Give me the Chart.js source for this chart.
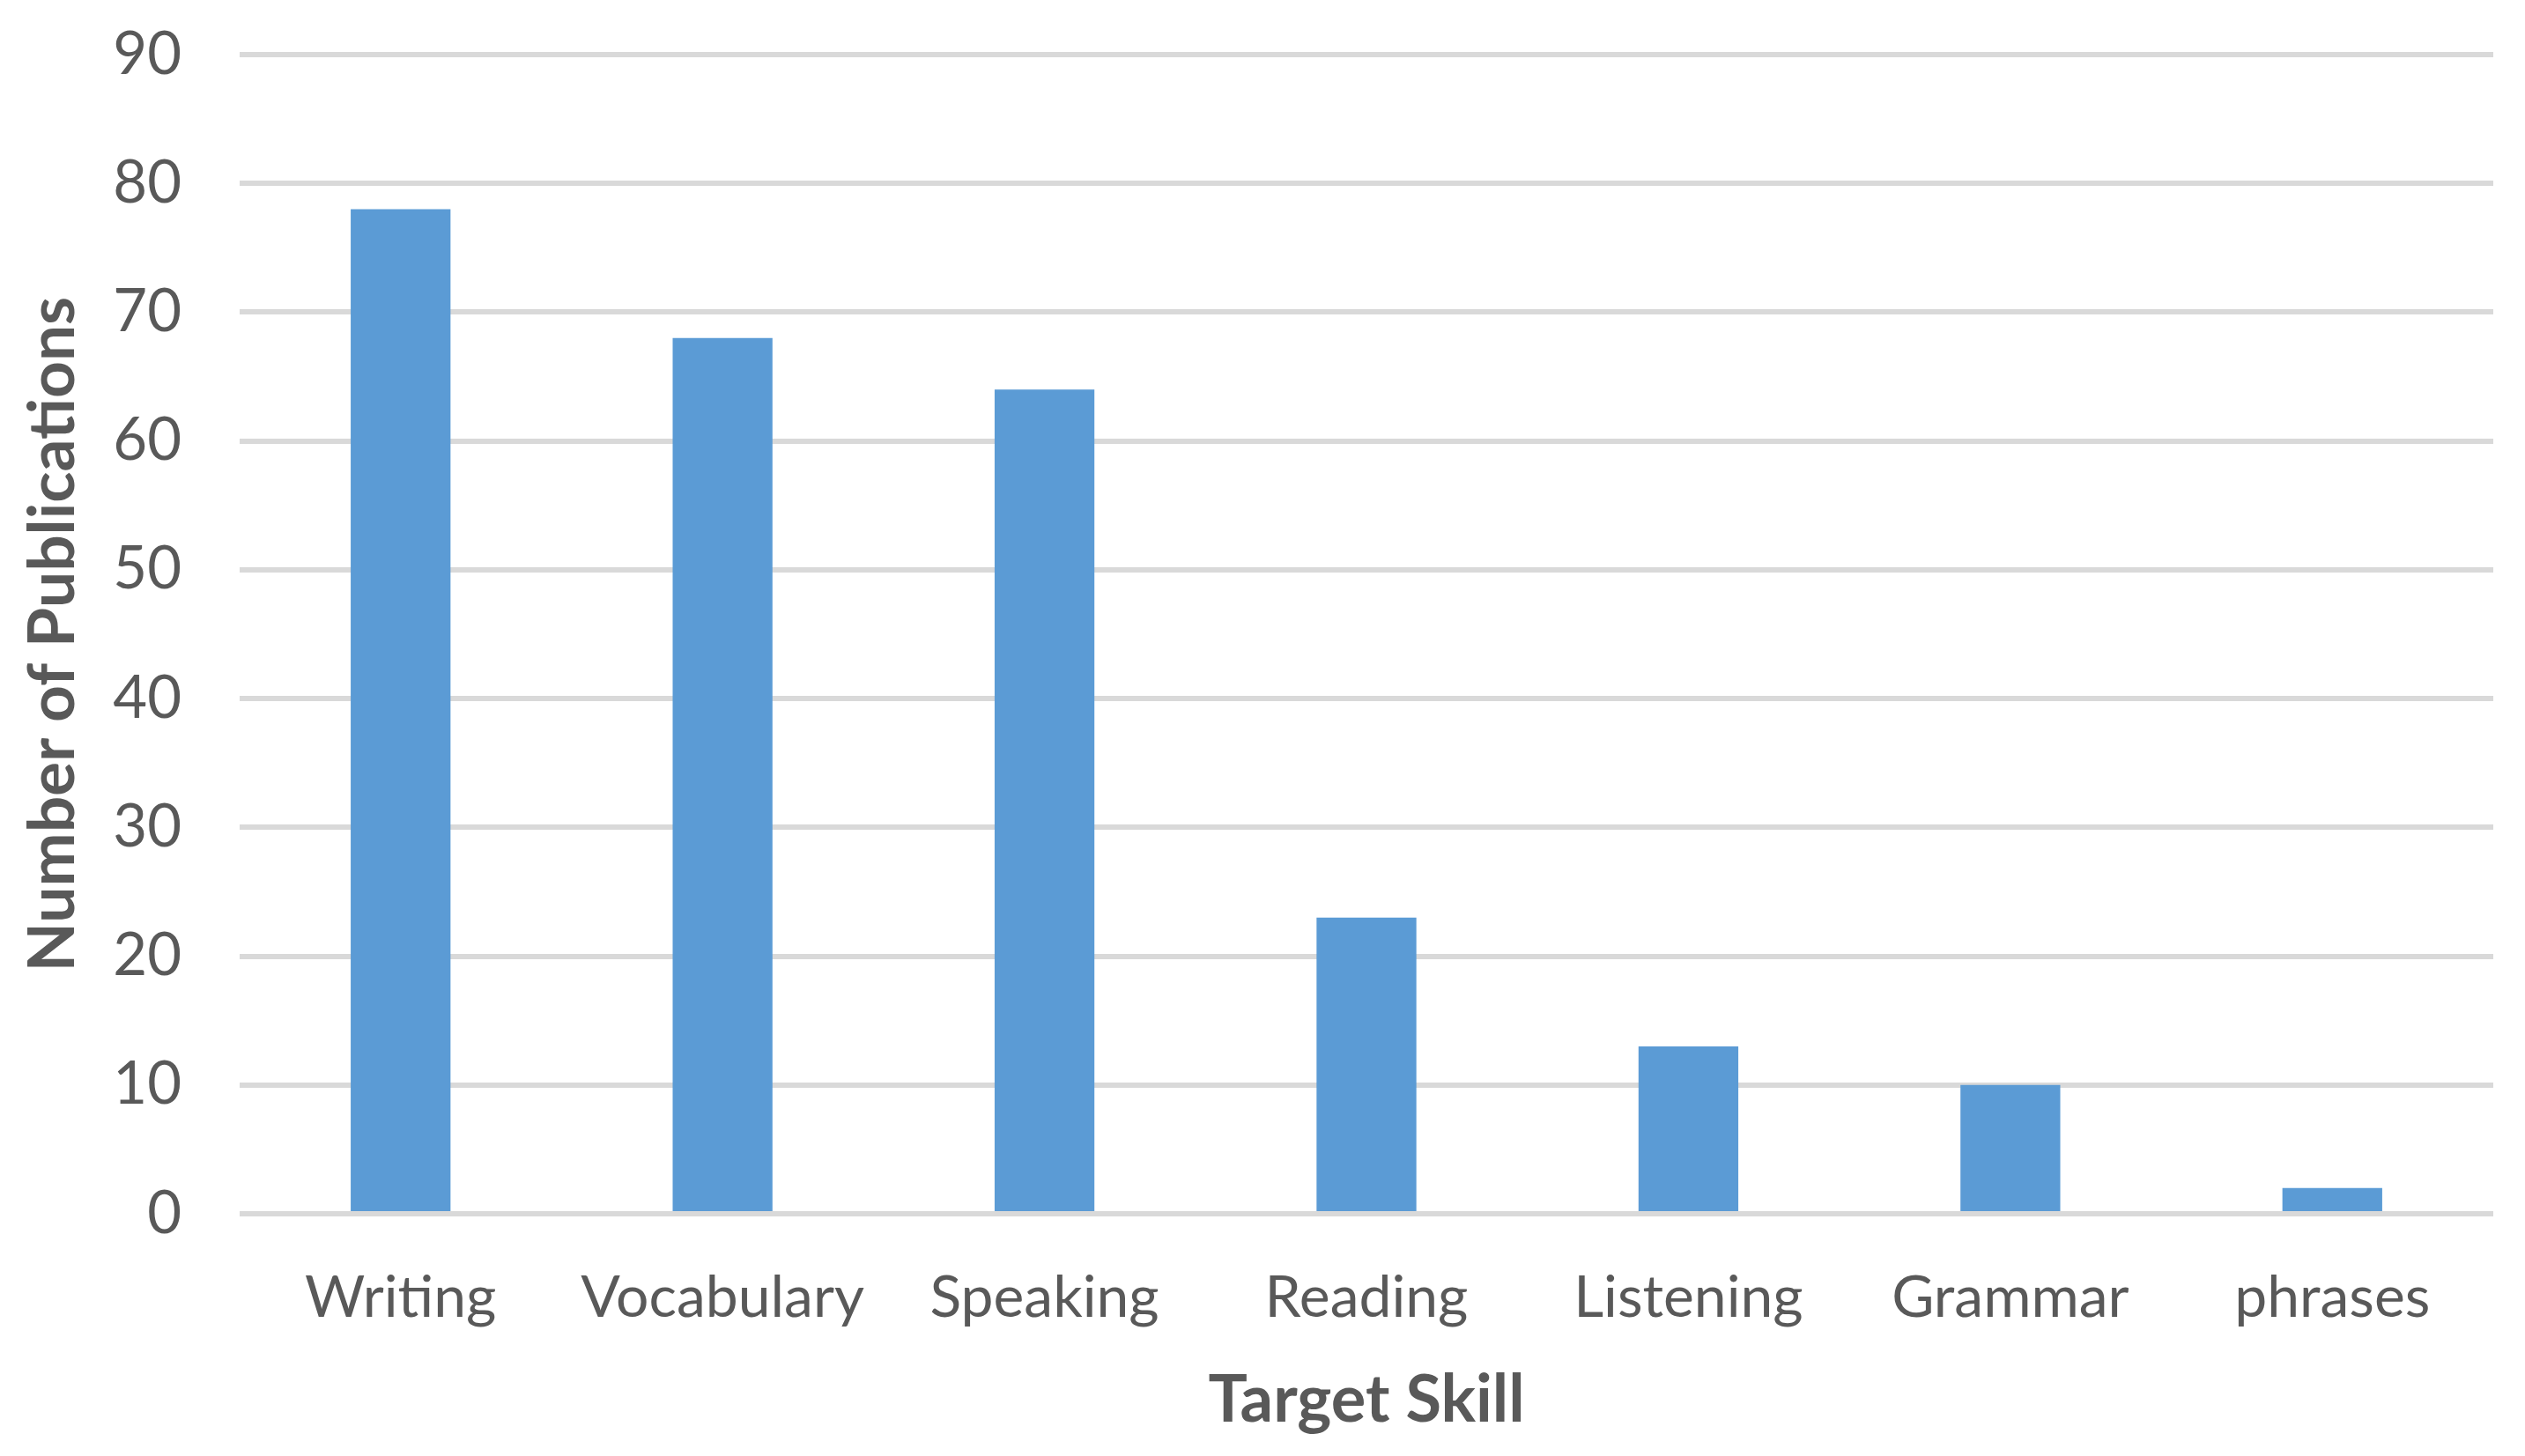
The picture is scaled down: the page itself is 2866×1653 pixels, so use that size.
<!DOCTYPE html>
<html>
<head>
<meta charset="utf-8">
<script src="https://cdn.jsdelivr.net/npm/chart.js@4"></script>
<style>
html,body{margin:0;padding:0;background:#fff;}
#wrap{width:2866px;height:1653px;}
</style>
</head>
<body>
<div id="wrap"><canvas id="c" width="2866" height="1653"></canvas></div>
<script>
const categories = ["Writing", "Vocabulary", "Speaking", "Reading", "Listening", "Grammar", "phrases"];
const publications = [78, 68, 64, 23, 13, 10, 2];
const yTicks = [0, 10, 20, 30, 40, 50, 60, 70, 80, 90];
const xTitle = "Target Skill";
const yTitle = "Number of Publications";

const textColor = "#595959";
const ctx = document.getElementById("c").getContext("2d");
new Chart(ctx, {
  type: "bar",
  data: {
    labels: categories,
    datasets: [{
      data: publications,
      backgroundColor: "#5b9bd5",
      borderWidth: 0,
      categoryPercentage: 1,
      barPercentage: 0.31
    }]
  },
  options: {
    responsive: false,
    animation: false,
    devicePixelRatio: 1,
    layout: { padding: { top: 62, right: 36, left: 0, bottom: 0 } },
    plugins: { legend: { display: false }, tooltip: { enabled: false } },
    scales: {
      x: {
        grid: { display: false, drawTicks: false },
        border: { display: false },
        ticks: {
          color: textColor,
          font: { family: "Lato", size: 66 },
          padding: 56,
          maxRotation: 0,
          autoSkip: false
        },
        title: {
          display: true,
          text: xTitle,
          color: textColor,
          font: { family: "Lato", size: 74, weight: "bold", lineHeight: 1 },
          padding: { top: 0, bottom: 26 }
        },
        afterFit: (s) => { s.height = 275; s.paddingLeft = 0; s.paddingRight = 0; }
      },
      y: {
        min: 0,
        max: 90,
        afterBuildTicks: (s) => { s.ticks = yTicks.map(v => ({ value: v })); },
        grid: { color: "#d9d9d9", lineWidth: 6, drawTicks: false },
        border: { display: false },
        ticks: {
          color: textColor,
          font: { family: "Lato", size: 67 },
          padding: 66
        },
        title: {
          display: true,
          text: yTitle,
          color: textColor,
          font: { family: "Lato", size: 73, weight: "bold", lineHeight: 1 },
          padding: { top: 24, bottom: 0 }
        },
        afterFit: (s) => { s.width = 272; s.paddingTop = 0; s.paddingBottom = 0; }
      }
    }
  }
});
</script>
</body>
</html>
